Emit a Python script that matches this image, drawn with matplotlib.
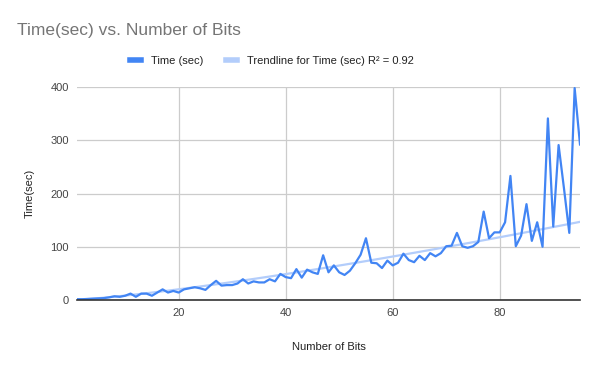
import matplotlib
matplotlib.use('Agg')
import matplotlib.pyplot as plt
import numpy as np

plt.rcParams['font.family'] = ['Liberation Sans', 'DejaVu Sans']

bits = list(range(1, 96))
time_sec = [1.5, 1.5, 2, 2.5, 3, 3.5, 5, 7, 6, 8,
            12, 6, 12, 12, 8, 14, 20, 14, 17, 14,
            20, 22, 24, 22, 19, 28, 36, 27, 28, 28,
            31, 39, 31, 35, 33, 33, 39, 35, 49, 43,
            41, 58, 42, 57, 52, 49, 84, 52, 65, 52,
            47, 55, 69, 85, 116, 70, 69, 60, 74, 65,
            70, 87, 75, 71, 83, 75, 88, 82, 88, 101,
            102, 126, 101, 98, 101, 109, 166, 116, 127, 127,
            146, 233, 101, 121, 180, 111, 146, 100, 341, 138,
            291, 210, 126, 398, 292]

x_ticks = [20, 40, 60, 80]
y_ticks = [0, 100, 200, 300, 400]

# power trendline (fit in log-log space, like the sheets "power series" option)
x = np.array(bits, dtype=float)
y = np.array(time_sec, dtype=float)
b, log_a = np.polyfit(np.log(x), np.log(y), 1)
trend = np.exp(log_a) * x ** b

fig = plt.figure(figsize=(6, 3.71), dpi=100)
ax = fig.add_axes([77 / 600, 1 - 300 / 371, 503 / 600, 213 / 371])

ax.plot(x, trend, color='#b3cdfb', lw=1.6, zorder=2, label='Trendline for Time (sec) R² = 0.92')
ax.plot(x, y, color='#4285f4', lw=1.6, zorder=3, label='Time (sec)')

ax.set_xlim(1, 95)
ax.set_ylim(0, 400)
ax.set_xticks(x_ticks)
ax.set_yticks(y_ticks)
ax.grid(True, color='#cccccc', lw=0.9)
ax.set_axisbelow(True)
for s in ['top', 'right', 'left']:
    ax.spines[s].set_visible(False)
ax.spines['bottom'].set_color('#333333')
ax.spines['bottom'].set_linewidth(1.2)
ax.spines['bottom'].set_zorder(4)
ax.tick_params(length=0, labelsize=8, labelcolor='#444444', pad=6)

ax.set_xlabel('Number of Bits', fontsize=8, color='#222222', labelpad=17)
ax.set_ylabel('Time(sec)', fontsize=8, color='#222222', labelpad=11)

fig.text(17 / 600, 1 - 31 / 371, 'Time(sec) vs. Number of Bits', fontsize=12.5,
         color='#757575', va='center', ha='left')

handles, labels = ax.get_legend_handles_labels()
leg = fig.legend(handles[::-1], labels[::-1], loc='center', bbox_to_anchor=(272 / 600, 1 - 61 / 371),
                 ncol=2, frameon=False, fontsize=8, handlelength=1.0, handletextpad=0.9,
                 columnspacing=2.0, labelcolor='#222222')
for h in leg.get_lines():
    h.set_linewidth(4)

fig.savefig('out.png', dpi=100)
